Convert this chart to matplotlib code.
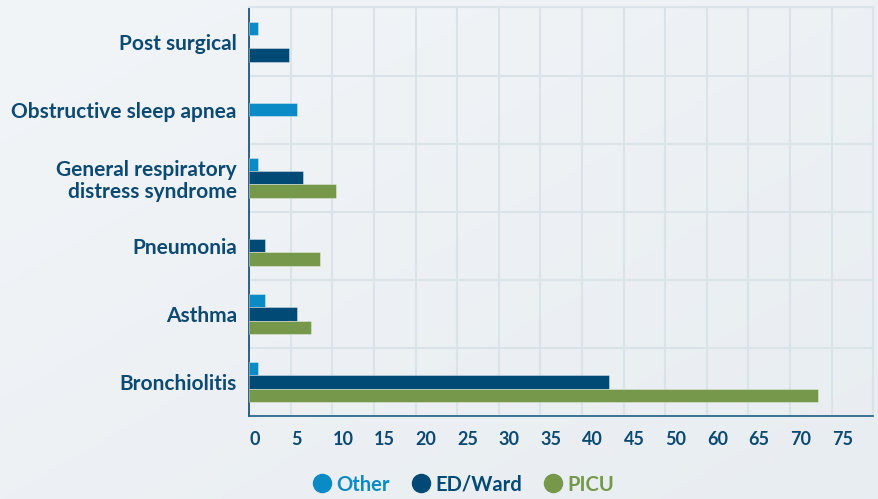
import numpy as np
import matplotlib.pyplot as plt
from matplotlib.lines import Line2D

# data (x in axis units)
categories = ["Post surgical", "Obstructive sleep apnea",
              "General respiratory\ndistress syndrome", "Pneumonia",
              "Asthma", "Bronchiolitis"]
other = [1.1, 5.7, 1.1, np.nan, 1.9, 1.1]
ed_ward = [4.8, np.nan, 6.5, 1.9, 5.7, 43.2]
picu = [np.nan, np.nan, 10.4, 8.5, 7.4, 68.3]
tick_values = list(range(0, 80, 5))
tick_labels = ["0", "5", "10", "15", "20", "25", "30", "35", "40", "45",
               "50", "60", "65", "70", "75", ""]

series_names = ["Other", "ED/Ward", "PICU"]
series = [other, ed_ward, picu]
colors = ["#0A8BC6", "#004A75", "#76984A"]
navy = "#0B4A73"
grid_c = "#D9E3E8"

# the source chart puts a few bars in odd slots
slot_override = {(0, 1): 2, (1, 0): 1}

plt.rcParams['font.family'] = ['Lato', 'DejaVu Sans']

fig = plt.figure(figsize=(8.79, 4.99), dpi=100)

# soft gradient background
bg = fig.add_axes([0, 0, 1, 1], zorder=-10)
gx, gy = np.meshgrid(np.linspace(0, 1, 200), np.linspace(0, 1, 200))
g = (gx + gy) / 2
c1 = np.array([0xF2, 0xF5, 0xF8]) / 255
c2 = np.array([0xE8, 0xED, 0xF1]) / 255
img = c1[None, None, :] * (1 - g[..., None]) + c2[None, None, :] * g[..., None]
bg.imshow(img, aspect='auto', extent=[0, 1, 0, 1])
bg.axis('off')

ax = fig.add_axes([0.2836, 0.1663, 0.7099, 0.8187])
ax.set_facecolor('none')

n = len(categories)
ypos = np.arange(n)[::-1]
h = 0.196
for s, (name, vals, col) in enumerate(zip(series_names, series, colors)):
    for i, v in enumerate(vals):
        if np.isnan(v):
            continue
        slot = slot_override.get((i, s), s)
        y = ypos[i] + (1 - slot) * h
        ax.barh(y, v, height=h, color=col, edgecolor='#FFFFFF80',
                linewidth=0.5, zorder=3)

ax.set_xlim(0, 75)
ax.set_ylim(-0.5, n - 0.5)
ax.set_xticks(tick_values)
ax.set_xticklabels(tick_labels, fontsize=13, fontweight='bold', color=navy)
for lab in ax.get_xticklabels():
    lab.set_horizontalalignment('left')
ax.set_yticks(ypos)
ax.set_yticklabels(categories, fontsize=15, fontweight='bold', color=navy,
                   linespacing=1.12)
ax.set_yticks(np.arange(-0.5, n, 1.0), minor=True)
ax.tick_params(axis='both', which='both', length=0)
ax.tick_params(axis='x', pad=11)
ax.tick_params(axis='y', pad=9)
ax.grid(axis='x', which='major', color=grid_c, linewidth=1.5, zorder=0)
ax.grid(axis='y', which='minor', color=grid_c, linewidth=1.5, zorder=0)
for side in ['top', 'right']:
    ax.spines[side].set_color(grid_c)
    ax.spines[side].set_linewidth(1.5)
ax.spines['left'].set_color(navy)
ax.spines['bottom'].set_color('#1F5E86')
ax.spines['left'].set_linewidth(1.2)
ax.spines['bottom'].set_linewidth(1.2)
ax.set_axisbelow(True)

handles = [Line2D([], [], marker='o', linestyle='none', markersize=13,
                  markerfacecolor=c, markeredgecolor=c) for c in colors]
fig.legend(handles, series_names, loc='center', bbox_to_anchor=(0.527, 0.029),
           ncol=3, frameon=False, handletextpad=0.2, columnspacing=1.05,
           labelcolor=colors, prop={'size': 14.5, 'weight': 'bold'},
           handlelength=1.0)

fig.savefig('out.png', dpi=100)
